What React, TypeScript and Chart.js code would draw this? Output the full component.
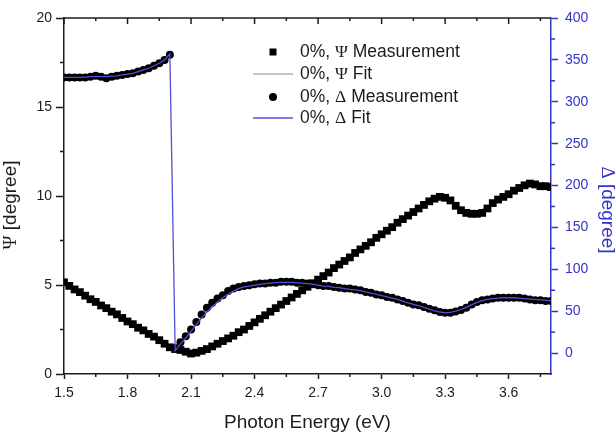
import { useEffect, useRef } from "react";
import { Chart, registerables } from "chart.js";

Chart.register(...registerables);

// Photon energy grid (eV)
const ENERGY = [
  1.5, 1.525, 1.55, 1.575, 1.6, 1.625, 1.65, 1.675, 1.7, 1.725, 1.75, 1.775, 1.8, 1.825, 1.85, 1.875, 1.9, 1.925, 1.95, 1.975,
  2.0, 2.025, 2.05, 2.075, 2.1, 2.125, 2.15, 2.175, 2.2, 2.225, 2.25, 2.275, 2.3, 2.325, 2.35, 2.375, 2.4, 2.425, 2.45, 2.475,
  2.5, 2.525, 2.55, 2.575, 2.6, 2.625, 2.65, 2.675, 2.7, 2.725, 2.75, 2.775, 2.8, 2.825, 2.85, 2.875, 2.9, 2.925, 2.95, 2.975,
  3.0, 3.025, 3.05, 3.075, 3.1, 3.125, 3.15, 3.175, 3.2, 3.225, 3.25, 3.275, 3.3, 3.325, 3.35, 3.375, 3.4, 3.425, 3.45, 3.475,
  3.5, 3.525, 3.55, 3.575, 3.6, 3.625, 3.65, 3.675, 3.7, 3.725, 3.75, 3.775, 3.8,
];

// Psi (degree), measured and fitted
const PSI_MEAS = [
  5.15, 4.95, 4.75, 4.6, 4.4, 4.2, 4.05, 3.85, 3.7, 3.5, 3.35, 3.15, 2.95, 2.8, 2.6, 2.45, 2.25, 2.1, 1.9, 1.7,
  1.5, 1.4, 1.35, 1.25, 1.15, 1.2, 1.3, 1.4, 1.55, 1.7, 1.85, 2.0, 2.15, 2.35, 2.5, 2.7, 2.9, 3.1, 3.3, 3.5,
  3.7, 3.9, 4.1, 4.3, 4.5, 4.7, 4.9, 5.1, 5.3, 5.5, 5.7, 5.95, 6.15, 6.35, 6.55, 6.8, 7.0, 7.2, 7.4, 7.65,
  7.85, 8.05, 8.25, 8.5, 8.7, 8.9, 9.1, 9.3, 9.5, 9.7, 9.85, 9.95, 9.9, 9.75, 9.45, 9.2, 9.05, 9.0, 9.0, 9.05,
  9.3, 9.6, 9.8, 9.95, 10.1, 10.3, 10.45, 10.6, 10.7, 10.65, 10.55, 10.55, 10.5,
];
const PSI_FIT = [
  5.1, 4.95, 4.75, 4.6, 4.4, 4.2, 4.05, 3.85, 3.7, 3.5, 3.35, 3.15, 2.95, 2.8, 2.6, 2.45, 2.25, 2.1, 1.9, 1.75,
  1.55, 1.42, 1.33, 1.25, 1.2, 1.22, 1.3, 1.4, 1.55, 1.7, 1.85, 2.0, 2.15, 2.33, 2.5, 2.7, 2.9, 3.1, 3.3, 3.5,
  3.7, 3.9, 4.1, 4.3, 4.5, 4.7, 4.9, 5.1, 5.3, 5.5, 5.72, 5.93, 6.15, 6.36, 6.57, 6.78, 7.0, 7.2, 7.42, 7.64,
  7.85, 8.07, 8.28, 8.5, 8.71, 8.92, 9.12, 9.32, 9.52, 9.7, 9.84, 9.9, 9.85, 9.7, 9.5, 9.32, 9.2, 9.15, 9.17, 9.25,
  9.4, 9.58, 9.76, 9.93, 10.08, 10.22, 10.35, 10.45, 10.52, 10.55, 10.55, 10.54, 10.52,
];

// Delta (degree), measured and fitted
const DELTA_MEAS = [
  329, 329, 329, 329, 329, 330, 331, 330, 328, 330, 331, 332, 333, 334, 336, 338, 340, 343, 346, 350,
  356, 6, 13, 20, 28, 37, 46, 54, 60, 65, 69, 74, 77, 79, 80, 81, 82, 83, 83, 84,
  84, 85, 85, 85, 84, 84, 83, 82, 81, 80, 80, 79, 78, 77, 77, 76, 75, 73, 72, 70,
  69, 67, 66, 64, 62, 60, 58, 57, 55, 53, 51, 49, 48, 48, 49.5, 51.5, 54, 58, 61, 63,
  64, 65, 66, 66, 66, 66, 66, 65, 64, 63, 63, 62, 62,
];
const DELTA_FIT = [
  329, 329, 329, 329, 329.5, 330, 330, 330, 330, 330.5, 331, 332, 333, 334, 336, 338, 340, 343, 346, 350,
  357, 3, 11, 18, 26, 34, 42, 49, 55, 61, 66, 70, 74, 77, 79, 80, 81, 82, 83, 83.5,
  84, 84.5, 84.5, 84.5, 84, 83.5, 83, 82, 81, 80, 79.5, 78.5, 78, 77, 76, 75.5, 74.5, 73, 71.5, 70,
  68.5, 67, 65.5, 64, 62, 60, 58, 56.5, 54.5, 52.5, 50.5, 49, 48, 48.5, 50, 52, 54.5, 57.5, 60.5, 62.5,
  64, 65, 65.5, 66, 66, 66, 65.5, 65, 64.5, 64, 63.5, 63, 62.5,
];

const X_TICKS = [1.5, 1.8, 2.1, 2.4, 2.7, 3.0, 3.3, 3.6];
const X_MINOR = [1.65, 1.95, 2.25, 2.55, 2.85, 3.15, 3.45, 3.75];
const PSI_TICKS = [0, 5, 10, 15, 20];
const PSI_MINOR = [2.5, 7.5, 12.5, 17.5];
const DELTA_TICKS = [0, 50, 100, 150, 200, 250, 300, 350, 400];
const DELTA_MINOR = [25, 75, 125, 175, 225, 275, 325, 375];

const LEGEND_LABELS = ["0%, Ψ Measurement", "0%, Ψ Fit", "0%, Δ Measurement", "0%, Δ Fit"];
const X_TITLE = "Photon Energy (eV)";
const PSI_TITLE = "Ψ [degree]";
const DELTA_TITLE = "Δ [degree]";

const SANS = "'Liberation Sans', Arial, sans-serif";
const SERIF = "'Liberation Serif', 'Times New Roman', serif";
const INK = "#1c1c1c";
const BLUE_AXIS = "#3434c4";
const BLUE_FIT = "#5050d8";
const GRAY_FIT = "#8a8a8a";

const pts = (ys: number[]) => ENERGY.map((x, i) => ({ x, y: ys[i] }));

// Draw text where Greek letters are set in a serif face
function drawMixed(ctx: CanvasRenderingContext2D, text: string, x: number, y: number, size: number) {
  const parts = text.split(/([ΨΔ])/).filter((p) => p.length > 0);
  let cx = x;
  for (const p of parts) {
    ctx.font = `${size}px ${/[ΨΔ]/.test(p) ? SERIF : SANS}`;
    ctx.fillText(p, cx, y);
    cx += ctx.measureText(p).width;
  }
  return cx - x;
}
function mixedWidth(ctx: CanvasRenderingContext2D, text: string, size: number) {
  const parts = text.split(/([ΨΔ])/).filter((p) => p.length > 0);
  let w = 0;
  for (const p of parts) {
    ctx.font = `${size}px ${/[ΨΔ]/.test(p) ? SERIF : SANS}`;
    w += ctx.measureText(p).width;
  }
  return w;
}

const decorPlugin = {
  id: "decor",
  afterDatasetsDraw(chart: any) {
    const { ctx, chartArea: a, scales } = chart;
    const sx = scales.x;
    const sl = scales.y;
    const sr = scales.y1;
    const seg = (x1: number, y1: number, x2: number, y2: number) => {
      ctx.beginPath();
      ctx.moveTo(x1, y1);
      ctx.lineTo(x2, y2);
      ctx.stroke();
    };
    ctx.save();
    ctx.lineWidth = 1.5;
    ctx.strokeStyle = INK;
    // top frame with inward ticks
    seg(a.left, a.top, a.right, a.top);
    X_TICKS.forEach((v) => {
      const p = sx.getPixelForValue(v);
      seg(p, a.top, p, a.top + 6);
    });
    X_MINOR.forEach((v) => {
      const p = sx.getPixelForValue(v);
      seg(p, a.top, p, a.top + 3);
      seg(p, a.bottom, p, a.bottom + 3);
    });
    PSI_MINOR.forEach((v) => {
      const p = sl.getPixelForValue(v);
      seg(a.left - 4, p, a.left, p);
    });
    ctx.strokeStyle = BLUE_AXIS;
    DELTA_MINOR.forEach((v) => {
      const p = sr.getPixelForValue(v);
      seg(a.right, p, a.right + 4, p);
    });

    // axis titles
    ctx.fillStyle = INK;
    ctx.textBaseline = "middle";
    ctx.textAlign = "left";
    ctx.font = `19px ${SANS}`;
    const tw = ctx.measureText(X_TITLE).width;
    ctx.fillText(X_TITLE, (a.left + a.right) / 2 - tw / 2, 423);

    ctx.save();
    ctx.translate(11, 205);
    ctx.rotate(-Math.PI / 2);
    const lw = mixedWidth(ctx, PSI_TITLE, 19);
    drawMixed(ctx, PSI_TITLE, -lw / 2, 0, 19);
    ctx.restore();

    ctx.save();
    ctx.fillStyle = BLUE_AXIS;
    ctx.translate(607, 210);
    ctx.rotate(Math.PI / 2);
    const rw = mixedWidth(ctx, DELTA_TITLE, 19);
    drawMixed(ctx, DELTA_TITLE, -rw / 2, 0, 19);
    ctx.restore();

    // legend
    const rows = [52, 74, 97, 118];
    LEGEND_LABELS.forEach((label, i) => {
      const y = rows[i];
      if (i === 0) {
        ctx.fillStyle = "#000";
        ctx.fillRect(273 - 3.5, y - 3.5, 7, 7);
      } else if (i === 2) {
        ctx.fillStyle = "#000";
        ctx.beginPath();
        ctx.arc(273, y, 4, 0, Math.PI * 2);
        ctx.fill();
      } else {
        ctx.strokeStyle = i === 1 ? GRAY_FIT : BLUE_FIT;
        ctx.lineWidth = i === 1 ? 1 : 1.3;
        seg(253, y, 293, y);
      }
      ctx.fillStyle = INK;
      drawMixed(ctx, label, 300, y, 17.5);
    });
    ctx.restore();
  },
};

export default function App() {
  const canvasRef = useRef<HTMLCanvasElement | null>(null);

  useEffect(() => {
    const canvas = canvasRef.current;
    if (!canvas) return;
    const tickFont = { family: SANS, size: 14 };
    const chart = new Chart(canvas, {
      type: "scatter",
      data: {
        datasets: [
          {
            label: LEGEND_LABELS[3],
            data: pts(DELTA_FIT),
            yAxisID: "y1",
            showLine: true,
            borderColor: BLUE_FIT,
            borderWidth: 1.3,
            pointRadius: 0,
            order: 0,
          },
          {
            label: LEGEND_LABELS[2],
            data: pts(DELTA_MEAS),
            yAxisID: "y1",
            showLine: false,
            pointStyle: "circle",
            pointRadius: 4,
            backgroundColor: "#000",
            borderWidth: 0,
            order: 1,
          },
          {
            label: LEGEND_LABELS[0],
            data: pts(PSI_MEAS),
            yAxisID: "y",
            showLine: false,
            pointStyle: "rect",
            pointRadius: 5.5,
            backgroundColor: "#000",
            borderWidth: 0,
            order: 2,
          },
          {
            label: LEGEND_LABELS[1],
            data: pts(PSI_FIT),
            yAxisID: "y",
            showLine: true,
            borderColor: GRAY_FIT,
            borderWidth: 1,
            pointRadius: 0,
            order: 3,
          },
        ],
      },
      options: {
        animation: false,
        responsive: false,
        devicePixelRatio: 1,
        layout: { padding: { top: 18, left: 0, right: 0, bottom: 0 } },
        plugins: { legend: { display: false }, tooltip: { enabled: false } },
        scales: {
          x: {
            type: "linear",
            position: "bottom",
            min: 1.5,
            max: 3.8,
            afterBuildTicks: (s: any) => {
              s.ticks = X_TICKS.map((value) => ({ value }));
            },
            afterFit: (s: any) => {
              s.height = 61;
            },
            ticks: {
              font: tickFont,
              color: INK,
              padding: 6,
              maxRotation: 0,
              callback: (v: any) => Number(v).toFixed(1),
            },
            grid: { drawOnChartArea: false, tickLength: 5, tickColor: INK, tickWidth: 1.5 },
            border: { color: INK, width: 1.5 },
          },
          y: {
            type: "linear",
            position: "left",
            min: 0,
            max: 20,
            afterBuildTicks: (s: any) => {
              s.ticks = PSI_TICKS.map((value) => ({ value }));
            },
            afterFit: (s: any) => {
              s.width = 64;
            },
            ticks: { font: tickFont, color: INK, padding: 4 },
            grid: { drawOnChartArea: false, tickLength: 8, tickColor: INK, tickWidth: 1.5 },
            border: { color: INK, width: 1.5 },
          },
          y1: {
            type: "linear",
            position: "right",
            min: -25,
            max: 400,
            afterBuildTicks: (s: any) => {
              s.ticks = DELTA_TICKS.map((value) => ({ value }));
            },
            afterFit: (s: any) => {
              s.width = 65;
            },
            ticks: { font: tickFont, color: BLUE_AXIS, padding: 7 },
            grid: { drawOnChartArea: false, tickLength: 7, tickColor: BLUE_AXIS, tickWidth: 1.5 },
            border: { color: BLUE_AXIS, width: 1.5 },
          },
        },
      },
      plugins: [decorPlugin],
    } as any);
    return () => chart.destroy();
  }, []);

  return (
    <div style={{ position: "absolute", left: 0, top: 0, width: 616, height: 435, background: "#fff" }}>
      <canvas ref={canvasRef} width={616} height={435} />
    </div>
  );
}
